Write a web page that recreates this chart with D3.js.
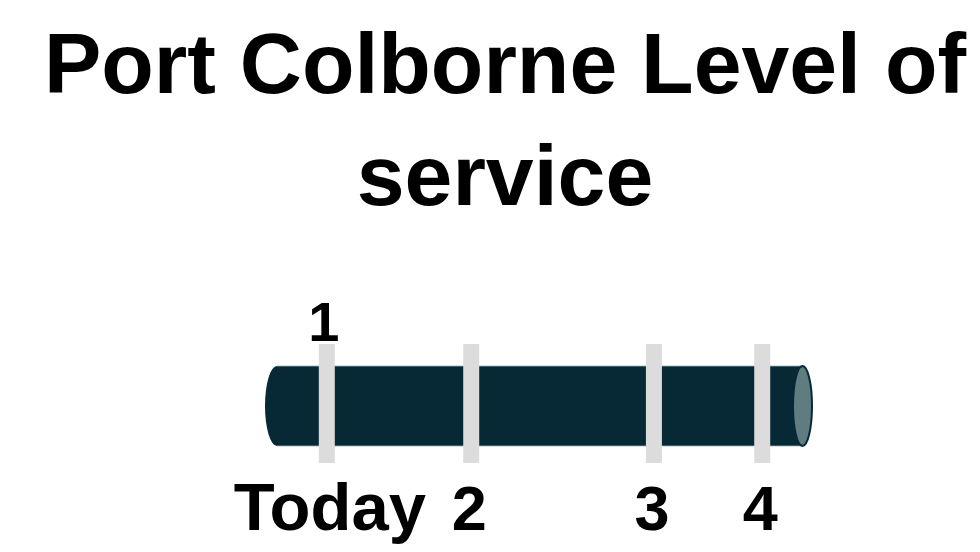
<!DOCTYPE html>
<html>
<head>
<meta charset="utf-8">
<script src="https://cdn.jsdelivr.net/npm/d3@7"></script>
<style>
  html, body { margin: 0; padding: 0; background: #ffffff; }
  #chart { width: 980px; height: 552px; }
  text { font-family: "Liberation Sans", Arial, sans-serif; font-weight: bold; fill: #000; }
</style>
</head>
<body>
<div id="chart"></div>
<script>
// Title lines
var titleLines = ["Port Colborne Level of", "service"];

// Milestones along the pipe (position in % of pipe length)
var milestonePos = [11.3, 37.7, 71.1, 90.9];
var labelsBelow = ["Today", "2", "3", "4"];
var labelsAbove = ["1", "", "", ""];

// Pipe extent in the same units
var pipeDomain = [0, 100];

var width = 980, height = 552;

var svg = d3.select("#chart").append("svg")
    .attr("width", width)
    .attr("height", height);

// Title
svg.append("g")
    .selectAll("text")
    .data(titleLines)
    .enter()
    .append("text")
    .attr("x", 505)
    .attr("y", function (d, i) { return 93 + i * 112; })
    .attr("text-anchor", "middle")
    .style("font-size", "86px")
    .text(function (d) { return d; });

// Scale for position along the pipe
var x = d3.scaleLinear()
    .domain(pipeDomain)
    .range([265, 812]);

var pipeTop = 366, pipeBottom = 446;
var ry = (pipeBottom - pipeTop) / 2;
var capRx = 12, endRx = 9.5;
var endCx = x(pipeDomain[1]) - endRx;

// Pipe body: rounded left end, straight to the right end
var p = d3.path();
p.moveTo(x(pipeDomain[0]) + capRx, pipeTop);
p.lineTo(endCx, pipeTop);
p.lineTo(endCx, pipeBottom);
p.lineTo(x(pipeDomain[0]) + capRx, pipeBottom);
p.closePath();

var pipe = svg.append("g").classed("pipe", true);

pipe.append("path")
    .attr("d", p.toString())
    .attr("fill", "#062935");

pipe.append("ellipse")
    .attr("cx", x(pipeDomain[0]) + capRx)
    .attr("cy", pipeTop + ry)
    .attr("rx", capRx)
    .attr("ry", ry)
    .attr("fill", "#062935");

// thin light edge on top and bottom
pipe.selectAll("line.edge")
    .data([pipeTop, pipeBottom])
    .enter()
    .append("line")
    .classed("edge", true)
    .attr("x1", x(pipeDomain[0]) + capRx)
    .attr("x2", endCx)
    .attr("y1", function (d) { return d; })
    .attr("y2", function (d) { return d; })
    .attr("stroke", "#9fb0b5")
    .attr("stroke-width", 0.8);

// Right end ellipse (the open end of the pipe)
pipe.append("ellipse")
    .attr("cx", endCx)
    .attr("cy", pipeTop + ry)
    .attr("rx", endRx)
    .attr("ry", ry)
    .attr("fill", "#5f7c81")
    .attr("stroke", "#062935")
    .attr("stroke-width", 2);

// Milestone bands
var bandW = 16;
var marks = svg.append("g").classed("marks", true)
    .selectAll("g")
    .data(milestonePos)
    .enter()
    .append("g")
    .attr("transform", function (d) { return "translate(" + x(d) + ",0)"; });

marks.append("rect")
    .attr("x", -bandW / 2)
    .attr("y", 344)
    .attr("width", bandW)
    .attr("height", 463 - 344)
    .attr("fill", "#dcdcdc");

marks.append("text")
    .attr("y", 530)
    .attr("dx", function (d, i) { return i === 0 ? 3 : -2; })
    .attr("text-anchor", "middle")
    .style("font-size", function (d, i) { return i === 0 ? "67px" : "63px"; })
    .text(function (d, i) { return labelsBelow[i]; });

marks.append("text")
    .attr("y", 341)
    .attr("dx", -3)
    .attr("text-anchor", "middle")
    .style("font-size", "56px")
    .text(function (d, i) { return labelsAbove[i]; });
</script>
</body>
</html>
